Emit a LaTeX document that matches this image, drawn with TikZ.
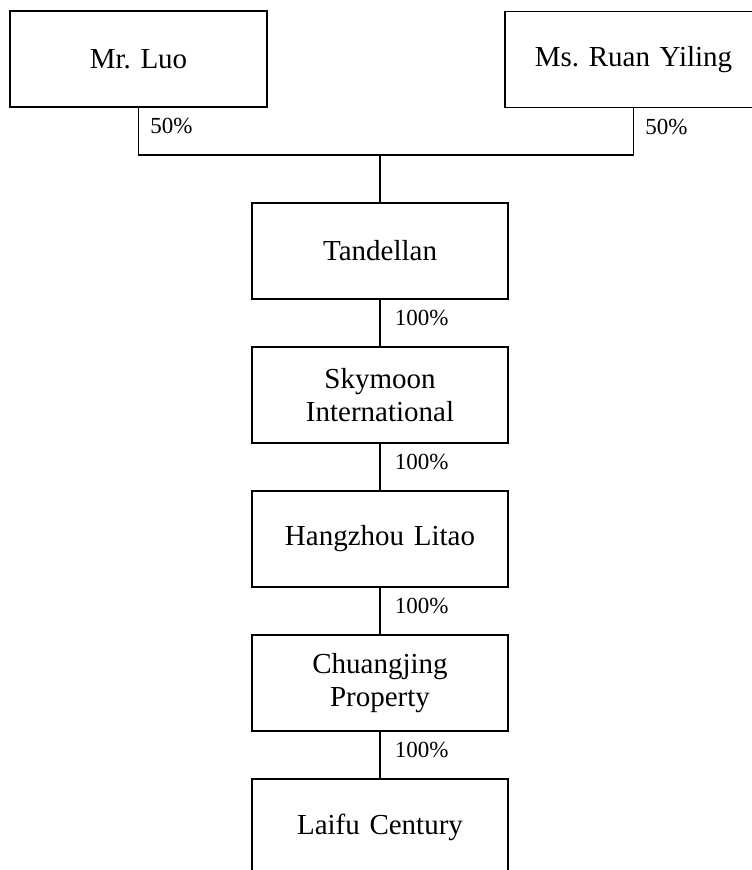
\documentclass[tikz,border=0pt]{standalone}
\usepackage{fontspec}
\setmainfont{Liberation Serif}
\frenchspacing
\usetikzlibrary{positioning}
\tikzstyle{company} = [rectangle, line width=1.5pt, minimum width=256pt, minimum height=96pt, text width=240pt, align=center, draw=black, font=\fontsize{29}{33}\selectfont]
\tikzstyle{owner} = [company, minimum width=257pt]
\tikzstyle{share} = [anchor=west, inner xsep=14pt, font=\fontsize{23}{27}\selectfont]
\tikzstyle{link} = [line width=1.5pt]

\begin{document}
\begin{tikzpicture}[x=1pt, y=-1pt, node distance=144pt]
\useasboundingbox (0,0) rectangle (752,870);
\clip (0,0) rectangle (752,870);

\node (luo) [owner] at (138.5,59) {Mr. Luo};
\node (ruan) [owner] at (633.5,59.5) {Ms. Ruan Yiling};
\node (tandellan) [company] at (380,251) {Tandellan};
\node (skymoon) [company, below of=tandellan] {Skymoon\\International};
\node (litao) [company, below of=skymoon] {Hangzhou Litao};
\node (chuangjing) [company, below of=litao] {Chuangjing\\Property};
\node (laifu) [company, below of=chuangjing] {Laifu Century};

\coordinate (joint) at (380,155);
\draw [link] (luo.south) |- (joint) node [share, pos=0.25, yshift=5pt, inner xsep=11pt] {50\%};
\draw [link] (ruan.south) |- (joint) node [share, pos=0.25, yshift=5pt, inner xsep=11pt] {50\%};
\draw [link] (joint) -- (tandellan);

\draw [link] (tandellan) -- (skymoon) node [share, midway, yshift=5pt] {100\%};
\draw [link] (skymoon) -- (litao) node [share, midway, yshift=5pt] {100\%};
\draw [link] (litao) -- (chuangjing) node [share, midway, yshift=5pt] {100\%};
\draw [link] (chuangjing) -- (laifu) node [share, midway, yshift=5pt] {100\%};

\end{tikzpicture}
\end{document}
